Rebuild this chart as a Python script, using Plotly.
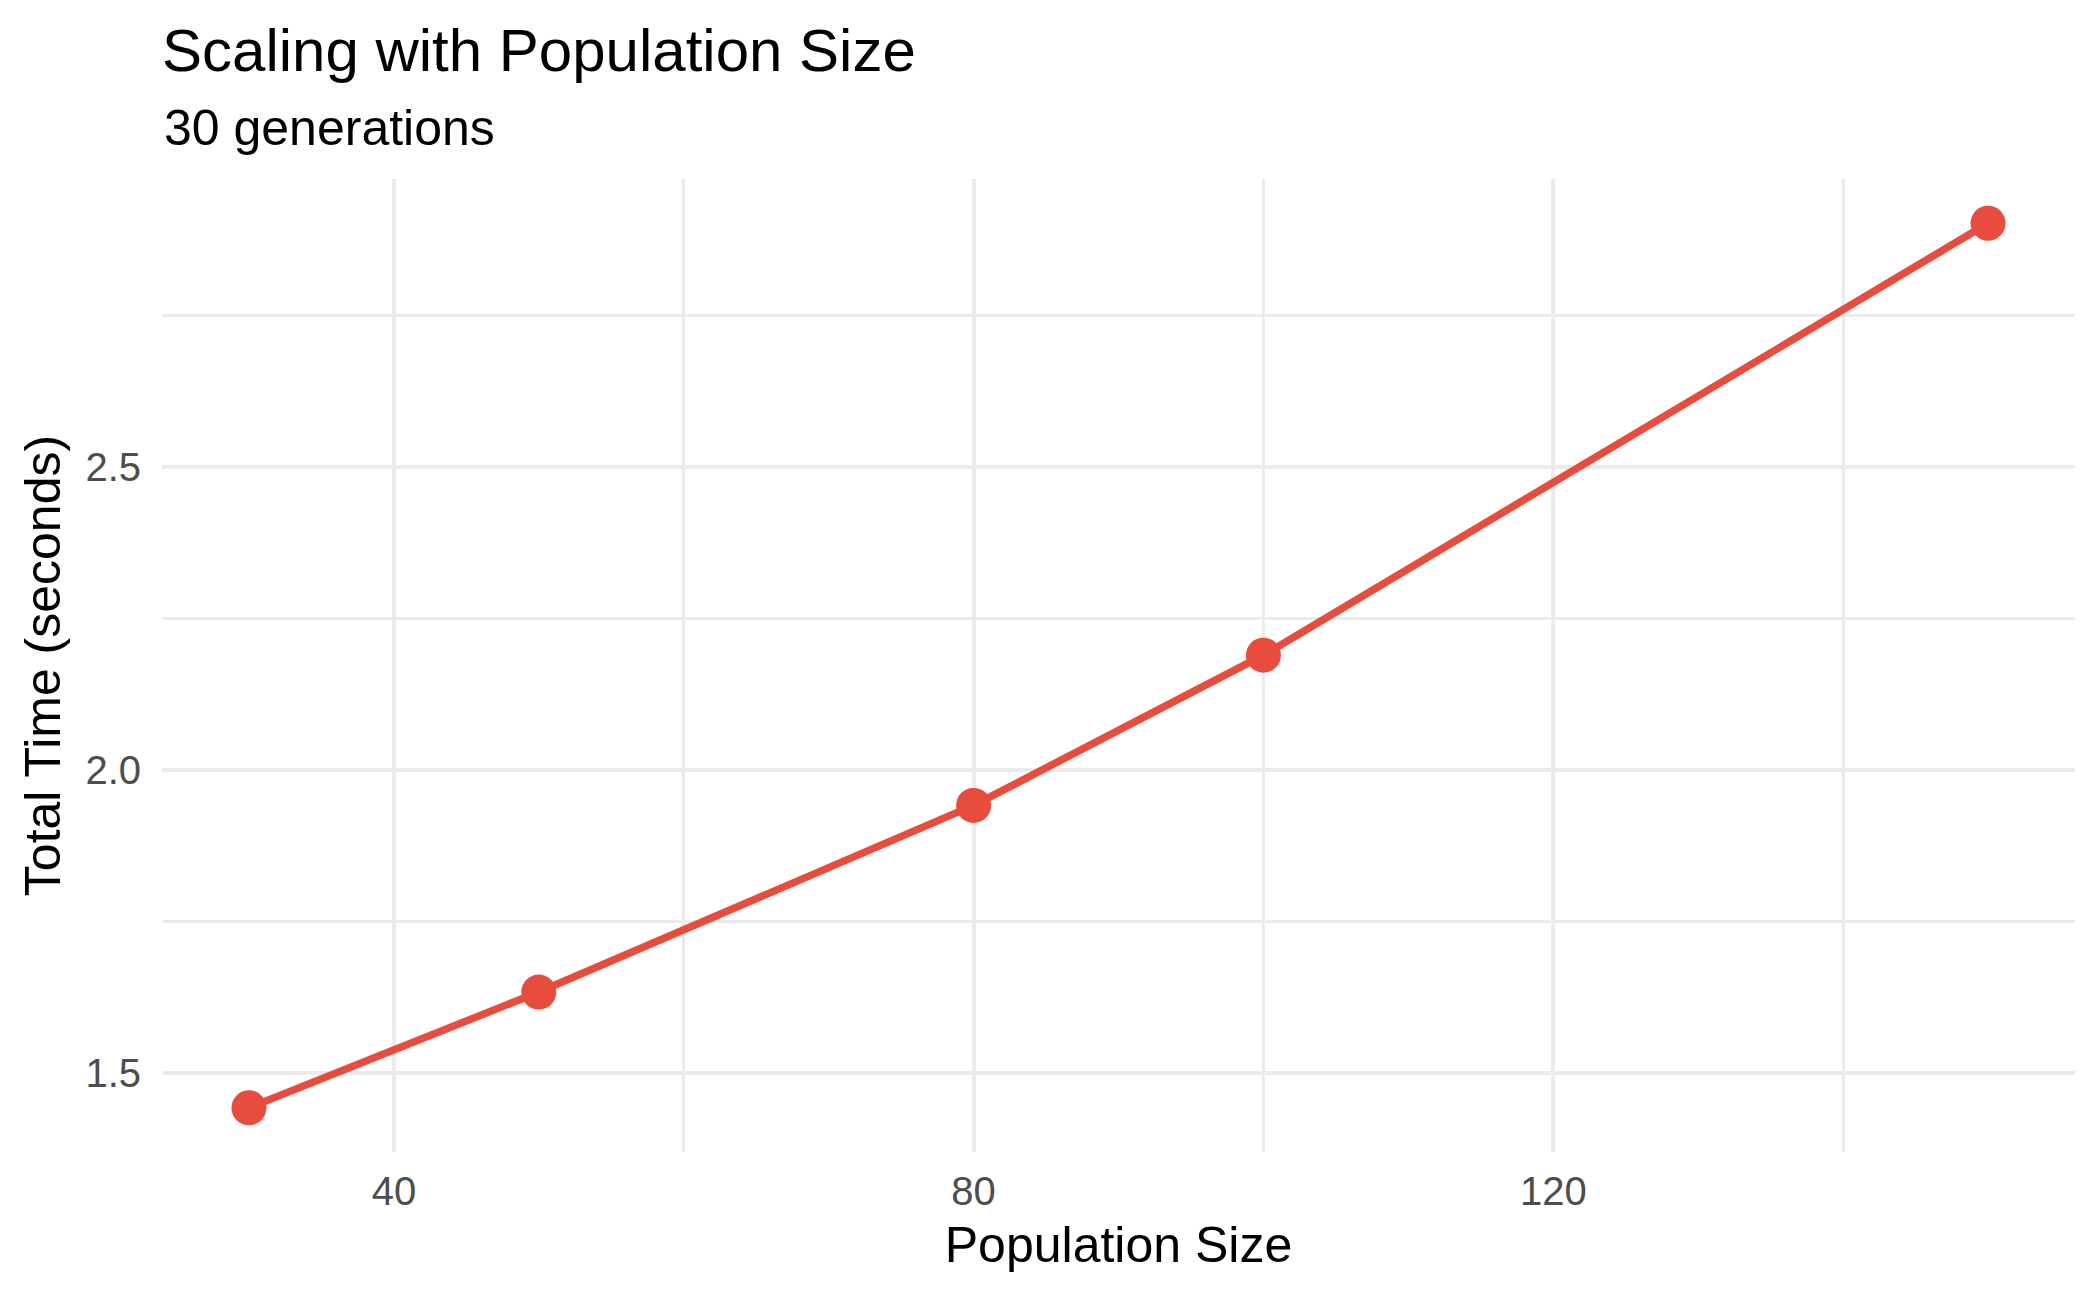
import plotly.graph_objects as go

# Data
population_size = [30, 50, 80, 100, 150]
total_time_s = [1.442, 1.633, 1.941, 2.189, 2.902]
x_tick_vals = [40, 80, 120]
y_tick_vals = [1.5, 2.0, 2.5]
y_tick_text = ["1.5", "2.0", "2.5"]

LINE_COLOR = "#E74C3C"
GRID = "#EBEBEB"
FONT = "Liberation Sans, Arial, Helvetica, sans-serif"


def expanded(vals, frac=0.05):
    lo, hi = min(vals), max(vals)
    pad = (hi - lo) * frac
    return [lo - pad, hi + pad]


fig = go.Figure()
fig.add_trace(go.Scatter(
    x=population_size,
    y=total_time_s,
    mode="lines+markers",
    line=dict(color=LINE_COLOR, width=7.5),
    marker=dict(color=LINE_COLOR, size=35, line=dict(width=0)),
    showlegend=False,
    hoverinfo="x+y",
))

W, H = 2100, 1297
OFF = 8  # page body margin
L, R, T, B = 162 - OFF, 25 + OFF, 179 - OFF, 145 + OFF
PH = H - T - B

fig.update_layout(
    width=W, height=H,
    margin=dict(l=L, r=R, t=T, b=B, pad=0),
    paper_bgcolor="white",
    plot_bgcolor="white",
    font=dict(family=FONT, color="black"),
    title=dict(
        text="Scaling with Population Size",
        font=dict(family=FONT, size=60, color="black"),
        xref="paper", x=0, xanchor="left",
        yref="container", y=1 - (50 - OFF) / H, yanchor="middle",
        pad=dict(l=0, r=0, t=0, b=0),
    ),
    annotations=[dict(
        text="30 generations",
        xref="paper", x=0, xanchor="left",
        yref="paper", y=1 + (179 - 128) / PH, yanchor="middle",
        showarrow=False,
        font=dict(family=FONT, size=50, color="black"),
    )],
    xaxis=dict(
        range=expanded(population_size),
        tickvals=x_tick_vals,
        ticktext=[str(v) for v in x_tick_vals],
        tickfont=dict(family=FONT, size=40, color="#4D4D4D"),
        showgrid=True, gridcolor=GRID, gridwidth=4,
        minor=dict(tickvals=[60, 100, 140], showgrid=True, gridcolor=GRID, gridwidth=2.5),
        zeroline=False, showline=False, ticks="",
        ticklabelstandoff=12,
        title=dict(text="Population Size", font=dict(family=FONT, size=50, color="black"), standoff=14),
    ),
    yaxis=dict(
        range=expanded(total_time_s),
        tickvals=y_tick_vals,
        ticktext=y_tick_text,
        tickfont=dict(family=FONT, size=40, color="#4D4D4D"),
        showgrid=True, gridcolor=GRID, gridwidth=4,
        minor=dict(tickvals=[1.75, 2.25, 2.75], showgrid=True, gridcolor=GRID, gridwidth=2.5),
        zeroline=False, showline=False, ticks="",
        ticklabelstandoff=20,
        title=dict(text="Total Time (seconds)", font=dict(family=FONT, size=50, color="black"), standoff=8),
    ),
)

fig.write_html("out.html")
